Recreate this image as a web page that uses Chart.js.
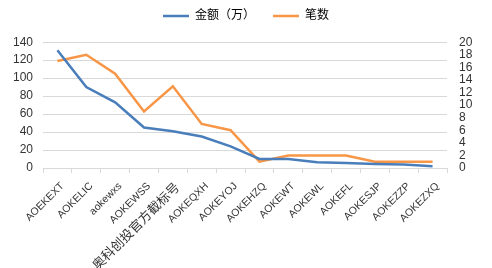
<!DOCTYPE html>
<html>
<head>
<meta charset="utf-8">
<script src="https://cdn.jsdelivr.net/npm/chart.js@4/dist/chart.umd.min.js"></script>
<style>
  html, body { margin: 0; padding: 0; background: #fff; }
  #wrap { width: 492px; height: 268px; }
</style>
</head>
<body>
<div id="wrap"><canvas id="chart" width="492" height="268"></canvas></div>
<script>
// data
const categories = ['AOEKEXT', 'AOKELIC', 'aokewxs', 'AOKEWSS', '奥科创投官方截标号', 'AOKEQXH', 'AOKEYOJ',
  'AOKEHZQ', 'AOKEWT', 'AOKEWL', 'AOKEFL', 'AOKESJP', 'AOKEZZP', 'AOKEZXQ'];
const amount = [131, 90, 73, 45, 41, 35, 24, 10, 10, 6.5, 5.5, 4.5, 4, 2];   // 金额（万）
const count = [17, 18, 15, 9, 13, 7, 6, 1, 2, 2, 2, 1, 1, 1];               // 笔数
const leftTicks = [0, 140, 20];
const rightTicks = [0, 20, 2];

const fontFamily = '"Liberation Sans", "Noto Sans CJK SC", sans-serif';
const gridColor = '#d9d9d9';
const textColor = '#333';

const ctx = document.getElementById('chart').getContext('2d');
const chart = new Chart(ctx, {
  type: 'line',
  data: {
    labels: categories,
    datasets: [{
      label: '金额（万）',
      data: amount,
      borderColor: '#4a7ebb',
      backgroundColor: '#4a7ebb',
      borderWidth: 2.5,
      pointRadius: 0,
      tension: 0,
      yAxisID: 'y'
    }, {
      label: '笔数',
      data: count,
      borderColor: '#f79646',
      backgroundColor: '#f79646',
      borderWidth: 2.5,
      pointRadius: 0,
      tension: 0,
      yAxisID: 'y1'
    }]
  },
  options: {
    responsive: false,
    animation: false,
    layout: { padding: { top: -8, right: 0, bottom: 0, left: 0 } },
    plugins: {
      tooltip: { enabled: false },
      legend: {
        position: 'top',
        labels: {
          usePointStyle: true,
          pointStyle: 'line',
          pointStyleWidth: 26,
          boxHeight: 10,
          padding: 18,
          color: '#000',
          font: { family: fontFamily, size: 12 }
        }
      },
      // empty box under the legend, only to push the plot down
      subtitle: {
        display: true,
        text: '',
        position: 'top',
        weight: 500,
        font: { size: 1 },
        padding: { top: 9, bottom: 0 }
      }
    },
    scales: {
      x: {
        offset: true,
        grid: { offset: true, drawOnChartArea: false, tickLength: 5, color: gridColor },
        border: { color: gridColor },
        ticks: {
          autoSkip: false, minRotation: 45, maxRotation: 45, padding: 7, labelOffset: 5,
          color: textColor,
          font: (c) => ({ family: fontFamily, size: c.index === 4 ? 13 : 10.5 })
        },
        afterFit: (s) => { s.height = 100; }
      },
      y: {
        position: 'left',
        min: leftTicks[0], max: leftTicks[1],
        ticks: { stepSize: leftTicks[2], padding: 10, color: textColor, font: { family: fontFamily, size: 12 } },
        grid: { color: gridColor, drawTicks: false },
        border: { display: false },
        afterFit: (s) => { s.width = 43; }
      },
      y1: {
        position: 'right',
        min: rightTicks[0], max: rightTicks[1],
        ticks: { stepSize: rightTicks[2], autoSkip: false, padding: 12, color: textColor, font: { family: fontFamily, size: 12 } },
        grid: { display: false, drawTicks: false },
        border: { display: false },
        afterFit: (s) => { s.width = 45; }
      }
    }
  }
});
</script>
</body>
</html>
